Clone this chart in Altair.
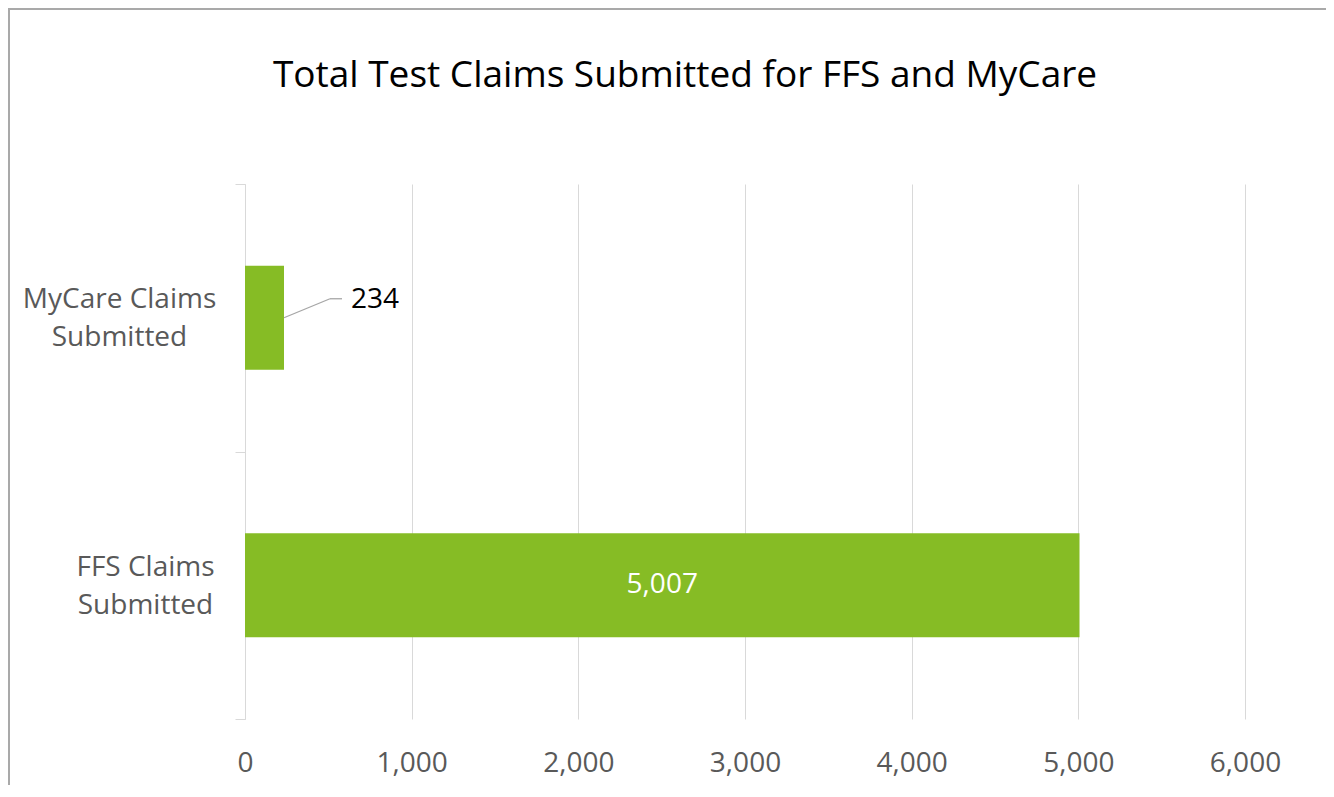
import altair as alt
import pandas as pd

# ---- data ----
categories = ["MyCare Claims Submitted", "FFS Claims Submitted"]
claims = [234, 5007]
x_ticks = [0, 1000, 2000, 3000, 4000, 5000, 6000]
title_text = "Total Test Claims Submitted for FFS and MyCare"

df = pd.DataFrame({"category": categories, "claims": claims})
df["label"] = [f"{v:,}" for v in df["claims"]]

GREEN = "#86BC25"
GRID = "#d9d9d9"
LABEL = "#595959"
FRAME = "#a9a9a9"
FONT = "Open Sans"

label_expr = ("[slice(datum.label, 0, lastindexof(datum.label, ' ')), "
              "slice(datum.label, lastindexof(datum.label, ' ') + 1)]")

y_axis = alt.Axis(
    title=None,
    tickBand="extent",
    domainColor=GRID,
    tickColor=GRID,
    tickSize=10,
    grid=False,
    labelFont=FONT,
    labelFontSize=28,
    labelColor=LABEL,
    labelAlign="center",
    labelBaseline="middle",
    labelLineHeight=38,
    labelLimit=0,
    labelOffset=-18,
    labelExpr=label_expr,
    labelPadding={"condition": {"test": "datum.value === 'FFS Claims Submitted'", "value": 90},
                  "value": 116},
)

y_enc = alt.Y("category:N", sort=categories, axis=y_axis,
              scale=alt.Scale(paddingInner=0, paddingOuter=0))

x_enc = alt.X(
    "claims:Q",
    scale=alt.Scale(domain=[0, 6000], nice=False),
    axis=alt.Axis(
        title=None,
        values=x_ticks,
        format=",.0f",
        grid=True,
        gridColor=GRID,
        domain=False,
        ticks=False,
        tickSize=0,
        labelPadding=30,
        labelFlush=False,
        labelOverlap=False,
        labelFont=FONT,
        labelFontSize=28,
        labelColor=LABEL,
    ),
)

base = alt.Chart(df)

one = alt.Data(values=[{}])
frame_left = alt.Chart(one).mark_rule(color=FRAME, strokeWidth=2).encode(
    x=alt.value(-236), y=alt.value(-176), y2=alt.value(605),
)
frame_top = alt.Chart(one).mark_rule(color=FRAME, strokeWidth=2).encode(
    x=alt.value(-237), x2=alt.value(1081), y=alt.value(-175),
)

bars = base.mark_bar(color=GREEN, height={"band": 0.389}).encode(x=x_enc, y=y_enc)

inside = base.transform_filter("datum.claims > 1000").transform_calculate(
    mid="datum.claims / 2"
).mark_text(font=FONT, fontSize=28, color="white", align="center", baseline="middle").encode(
    x=alt.X("mid:Q"), y=alt.Y("category:N", sort=categories), text="label:N"
)

outside = base.transform_filter("datum.claims <= 1000").mark_text(
    font=FONT, fontSize=28, color="black", align="left", baseline="middle", dx=67, dy=-18
).encode(x="claims:Q", y=alt.Y("category:N", sort=categories), text="label:N")

leader_diag = base.transform_filter("datum.claims <= 1000").mark_rule(
    color="#a6a6a6", strokeWidth=1.3, x2Offset=46, y2Offset=-19
).encode(
    x="claims:Q", x2="claims:Q",
    y=alt.Y("category:N", sort=categories, bandPosition=0.5),
    y2=alt.Y2("category:N", bandPosition=0.5),
)

leader_flat = base.transform_filter("datum.claims <= 1000").mark_rule(
    color="#a6a6a6", strokeWidth=1.3, xOffset=46, x2Offset=58, yOffset=-19
).encode(
    x="claims:Q", x2="claims:Q",
    y=alt.Y("category:N", sort=categories),
)

chart = alt.layer(frame_left, frame_top, bars, inside, outside, leader_diag, leader_flat).properties(
    width=1000,
    height=535,
    padding={"left": 237, "top": 176, "right": 81, "bottom": 66},
    autosize=alt.AutoSizeParams(type="none"),
    title=alt.TitleParams(
        title_text, font=FONT, fontSize=37, fontWeight="normal", color="black",
        anchor="middle", dx=-60, offset=-88,
    ),
).configure_view(stroke=None)

chart.save("out.html", embed_options={"renderer": "svg", "actions": False})
